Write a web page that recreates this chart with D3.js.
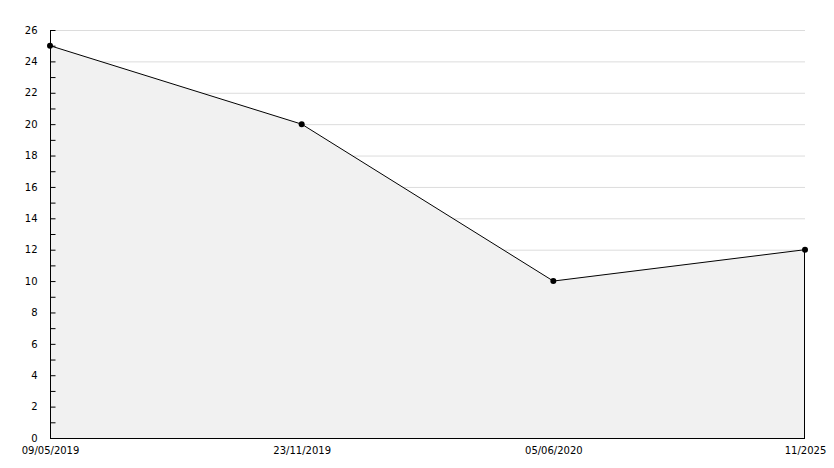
<!DOCTYPE html>
<html>
<head>
<meta charset="utf-8">
<script src="https://cdn.jsdelivr.net/npm/d3@7"></script>
<style>
  body { margin: 0; background: #fff; }
  text { font-family: "DejaVu Sans", sans-serif; font-size: 10px; fill: #000; }
</style>
</head>
<body>
<script>
const w = 834;
const h = 468;
const padLeft = 50, padRight = 805, padTop = 30, padBottom = 438;

const dates = ["09/05/2019", "23/11/2019", "05/06/2020", "11/2025"];
const values = [25, 20, 10, 12];
const yTicks = [0, 2, 4, 6, 8, 10, 12, 14, 16, 18, 20, 22, 24, 26];

const data = dates.map((d, i) => ({date: d, value: values[i]}));

const xScale = d3.scalePoint()
                 .domain(dates)
                 .range([padLeft, padRight]);

const yScale = d3.scaleLinear()
                 .domain([0, 26])
                 .range([padBottom, padTop]);

const svg = d3.select("body")
              .append("svg")
              .attr("width", w)
              .attr("height", h);

// grid lines
svg.append("g")
   .selectAll("line")
   .data(yTicks.filter(t => t > 0))
   .enter()
   .append("line")
   .attr("x1", padLeft)
   .attr("x2", padRight)
   .attr("y1", d => yScale(d) + 0.5)
   .attr("y2", d => yScale(d) + 0.5)
   .attr("stroke", "#dcdcdc");

// area under line
const area = d3.area()
               .x(d => xScale(d.date))
               .y0(yScale(0))
               .y1(d => yScale(d.value));

svg.append("path")
   .datum(data)
   .attr("d", area)
   .attr("fill", "#f1f1f1");

// right edge of area
svg.append("line")
   .attr("x1", xScale(dates[dates.length - 1]) - 0.5)
   .attr("x2", xScale(dates[dates.length - 1]) - 0.5)
   .attr("y1", yScale(0))
   .attr("y2", yScale(values[values.length - 1]))
   .attr("stroke", "#000");

const line = d3.line()
               .x(d => xScale(d.date))
               .y(d => yScale(d.value));

svg.append("path")
   .datum(data)
   .attr("d", line)
   .attr("fill", "none")
   .attr("stroke", "#000")
   .attr("stroke-width", 1);

svg.selectAll(".dot")
   .data(data)
   .enter()
   .append("circle")
   .attr("class", "dot")
   .attr("cx", d => xScale(d.date))
   .attr("cy", d => yScale(d.value))
   .attr("r", 3)
   .attr("fill", "#000");

// y axis: ticks point inward, minor ticks on odd values
const yAxis = d3.axisLeft(yScale)
                .tickValues(d3.range(0, 27, 1))
                .tickSize(-5)
                .tickPadding(13)
                .tickFormat(d => d % 2 === 0 ? d : "");

const gy = svg.append("g")
              .attr("transform", "translate(" + (padLeft + 0.5) + ",0)")
              .call(yAxis);
gy.select(".domain").attr("d", "M0," + padTop + "V" + (padBottom + 0.5));
gy.selectAll("text").style("font-size", "10px");

// x axis
const xAxis = d3.axisBottom(xScale)
                .tickSize(0)
                .tickPadding(8);

const gx = svg.append("g")
              .attr("transform", "translate(0," + (padBottom + 0.5) + ")")
              .call(xAxis);
gx.select(".domain").attr("d", "M" + padLeft + ",0H" + padRight);
gx.selectAll("text").style("font-size", "10px");
</script>
</body>
</html>
